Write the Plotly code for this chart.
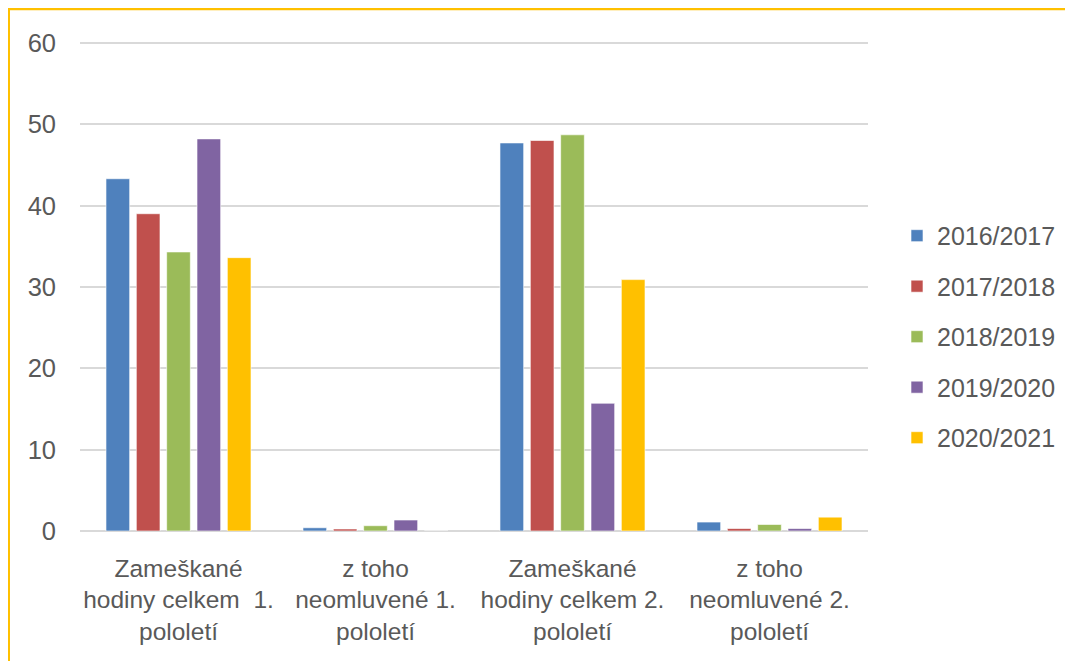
import plotly.graph_objects as go

categories = [
    "Zameškané<br>hodiny celkem  1.<br>pololetí",
    "z toho<br>neomluvené 1.<br>pololetí",
    "Zameškané<br>hodiny celkem 2.<br>pololetí",
    "z toho<br>neomluvené 2.<br>pololetí",
]
series_names = ["2016/2017", "2017/2018", "2018/2019", "2019/2020", "2020/2021"]
v_2016_2017 = [43.3, 0.4, 47.7, 1.1]
v_2017_2018 = [39.0, 0.25, 48.0, 0.3]
v_2018_2019 = [34.3, 0.65, 48.7, 0.8]
v_2019_2020 = [48.2, 1.35, 15.7, 0.3]
v_2020_2021 = [33.6, 0.0, 30.9, 1.7]
series_values = [v_2016_2017, v_2017_2018, v_2018_2019, v_2019_2020, v_2020_2021]
colors = ["#4F81BD", "#C0504D", "#9BBB59", "#8064A2", "#FFC000"]
y_ticks = [0, 10, 20, 30, 40, 50, 60]

FONT = "Liberation Sans, Arial, sans-serif"
TXT = "#595959"

fig = go.Figure()
for name, vals, col in zip(series_names, series_values, colors):
    fig.add_trace(go.Bar(
        x=categories, y=vals, name=name, legendgroup=name,
        marker=dict(color=col, line=dict(color="rgba(255,255,255,0.6)", width=1)),
    ))

# page is offset by the browser's 8px body margin
OFF = 8
W, H = 1073, 661
YMAX = 60.6
L = 80 - OFF
RIGHT, BOTTOM = 868 - OFF, 531 - OFF
unit = (531 - 43) / 60.0
T = BOTTOM - YMAX * unit
pw = RIGHT - L
ph = BOTTOM - T

def px_x(x):
    return (x - OFF - L) / pw

def px_y(y):
    return (BOTTOM - (y - OFF)) / ph

fig.update_layout(
    width=W, height=H,
    margin=dict(l=L, r=W - RIGHT, t=T, b=H - BOTTOM),
    paper_bgcolor="white", plot_bgcolor="white",
    barmode="group", bargap=0.23, bargroupgap=0.22,
    font=dict(family=FONT, size=25, color=TXT),
    showlegend=True,
    legend=dict(
        x=px_x(897), y=px_y(213), xanchor="left", yanchor="top",
        font=dict(family=FONT, size=25, color=TXT),
        tracegroupgap=15, bgcolor="rgba(0,0,0,0)",
    ),
    xaxis=dict(
        tickvals=categories, ticktext=categories,
        showgrid=False, showline=False, zeroline=False,
        ticks="", ticklabelstandoff=20,
        tickfont=dict(family=FONT, size=24.5, color=TXT),
    ),
    yaxis=dict(
        range=[0, YMAX], tickvals=y_ticks, showgrid=True,
        gridcolor="#D9D9D9", gridwidth=2,
        zeroline=True, zerolinecolor="#D9D9D9", zerolinewidth=2,
        showline=False, ticks="", ticklabelstandoff=23,
        tickfont=dict(family=FONT, size=25.5, color=TXT),
    ),
    shapes=[
        dict(type="line", xref="paper", yref="paper",
             x0=px_x(7), x1=px_x(1090), y0=px_y(9), y1=px_y(9),
             line=dict(color="#FFC000", width=3)),
        dict(type="line", xref="paper", yref="paper",
             x0=px_x(8.5), x1=px_x(8.5), y0=px_y(7.5), y1=px_y(680),
             line=dict(color="#FFC000", width=3)),
    ],
)

fig.write_html("out.html")
